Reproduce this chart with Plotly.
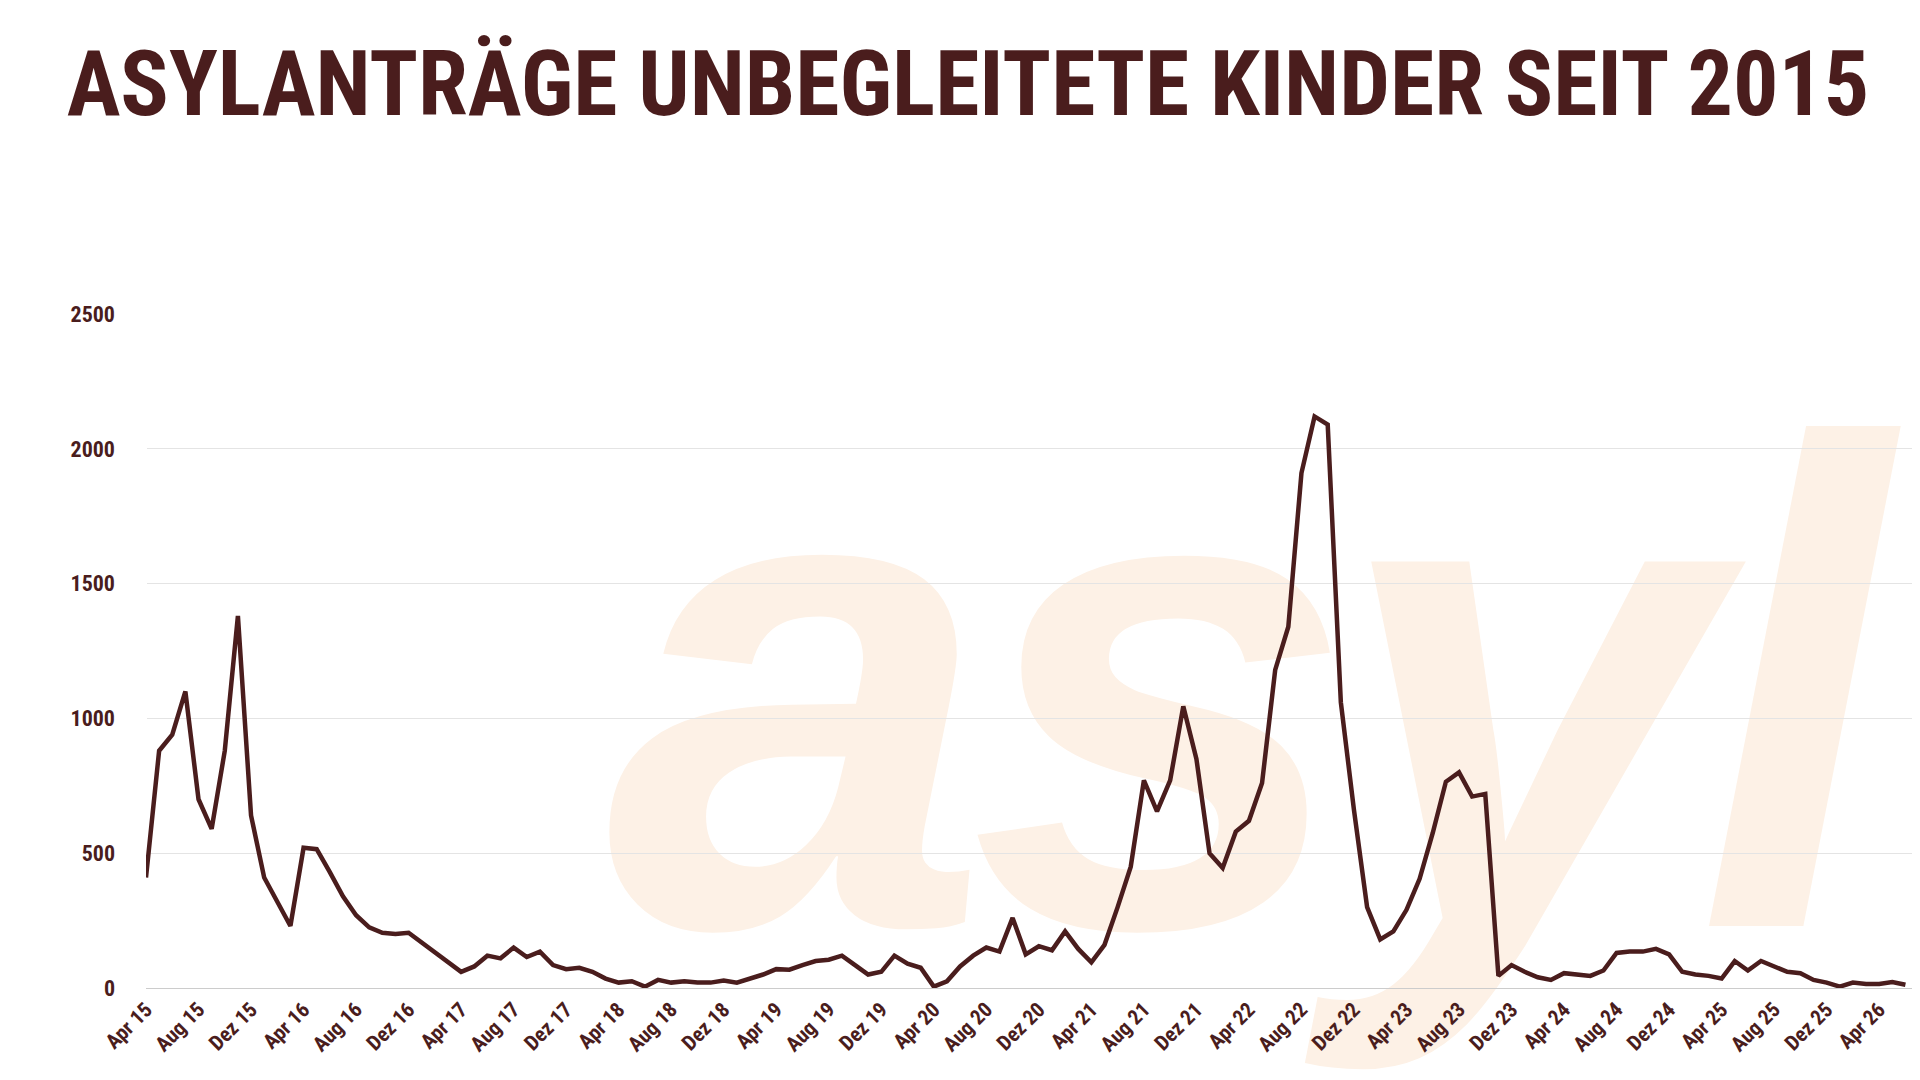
import base64
import plotly.graph_objects as go

months = ["Jan", "Feb", "Mär", "Apr", "Mai", "Jun", "Jul", "Aug", "Sep", "Okt", "Nov", "Dez"]

# monthly values from Apr 2015 to Jun 2026
values = [410, 880, 940, 1100, 700, 590, 880, 1380, 640,
          410, 320, 230, 520, 515, 430, 340, 270, 225, 205, 200, 205,
          170, 130, 95, 60, 80, 120, 110, 150, 115, 135, 85, 70,
          75, 60, 35, 20, 25, 5, 30, 20, 25, 20, 20, 28,
          20, 35, 50, 70, 68, 85, 100, 105, 120, 85, 50, 60,
          120, 90, 75, 5, 25, 80, 120, 150, 135, 260, 125, 155,
          140, 210, 145, 95, 160, 300, 450, 770, 655, 770, 1045, 850,
          500, 445, 580, 620, 760, 1180, 1340, 1910, 2120, 2090, 1060, 660,
          300, 180, 210, 290, 405, 575, 765, 800, 710, 720, 45, 85,
          60, 40, 30, 55, 50, 45, 65, 130, 135, 135, 145, 125,
          60, 50, 45, 35, 100, 65, 100, 80, 60, 55, 30, 20,
          5, 20, 15, 15, 22, 12]

labels = []
for i in range(len(values)):
    m = (3 + i) % 12
    y = 15 + (3 + i) // 12
    labels.append(f"{months[m]} {y}")

x = list(range(len(values)))
tick_idx = x[::4]
tick_txt = [labels[i] for i in tick_idx]

dark = "#4a1d1d"

# watermark drawn as svg below the plot
svg = ('<svg xmlns="http://www.w3.org/2000/svg" width="1920" height="1080" viewBox="0 0 1920 1080">'
       '<text x="598" y="918" font-family="Liberation Sans, Arial, sans-serif" font-weight="bold" '
       'font-style="italic" font-size="690" letter-spacing="-20" fill="#fdf1e6">asyl</text></svg>')
svg_src = "data:image/svg+xml;base64," + base64.b64encode(svg.encode()).decode()

fig = go.Figure(go.Scatter(x=x, y=values, mode="lines",
                           line=dict(color=dark, width=4.5)))

fig.update_layout(
    width=1920, height=1080,
    paper_bgcolor="white", plot_bgcolor="rgba(0,0,0,0)",
    margin=dict(l=138, r=16, t=306, b=100),
    showlegend=False,
    title=dict(text="<b>ASYLANTRÄGE UNBEGLEITETE KINDER SEIT 2015</b>",
               x=0.5, xanchor="center", y=0.93, yanchor="middle",
               font=dict(family="Roboto Condensed, Liberation Sans Narrow, Liberation Sans", size=90, color=dark)),
    images=[dict(source=svg_src, xref="paper", yref="paper",
                 x=-138/1766, y=1 + 306/674, sizex=1920/1766, sizey=1080/674,
                 xanchor="left", yanchor="top", sizing="stretch", layer="below")],
)

fig.update_xaxes(range=[0, len(values) - 0.5], tickvals=tick_idx, ticktext=tick_txt,
                 tickangle=-45, showgrid=False, showline=True, linecolor="#cccccc",
                 ticks="", tickfont=dict(family="Roboto Condensed, Liberation Sans", size=21, color=dark, weight="bold"))
fig.update_yaxes(range=[0, 2500], tickvals=[0, 500, 1000, 1500, 2000, 2500],
                 showgrid=True, gridcolor="#e4e4e4", zeroline=False, ticks="",
                 ticklabelstandoff=30,
                 tickfont=dict(family="Roboto Condensed, Liberation Sans", size=22, color=dark, weight="bold"))

fig.write_html("out.html")
